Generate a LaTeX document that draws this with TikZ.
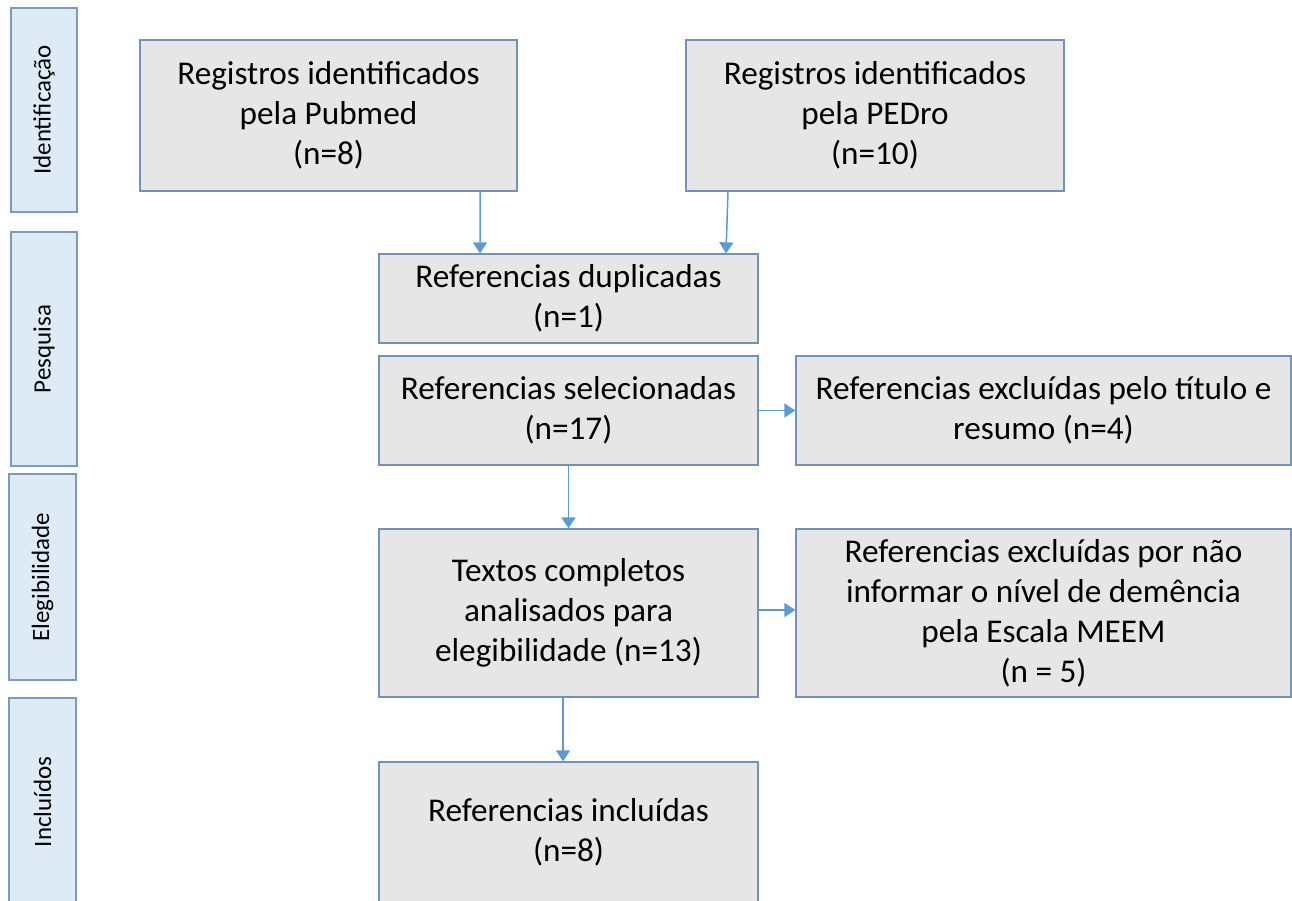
\documentclass[tikz,border=0pt]{standalone}
\usepackage{fontspec}
\setmainfont{Carlito}
\usepackage{tikz}
\usetikzlibrary{arrows.meta,calc}

\definecolor{boxgray}{HTML}{E6E6E6}
\definecolor{boxline}{HTML}{7193BB}
\definecolor{barfill}{HTML}{DEEAF6}
\definecolor{barline}{HTML}{7A9BC2}
\definecolor{flowblue}{HTML}{5B9BD5}

\tikzset{
	size/.style 2 args={minimum width=#1*0.02cm, minimum height=#2*0.02cm},
	stagebox/.style={draw=boxline, fill=boxgray, line width=0.75pt, align=center,
		inner sep=0pt, font=\fontsize{18.9}{22.8}\selectfont},
	phasebar/.style={draw=barline, fill=barfill, line width=0.9pt, inner sep=0pt},
	phaselabel/.style={rotate=90, font=\fontsize{14.2}{17}\selectfont},
	flow/.style={draw=flowblue, line width=0.85pt, -{Triangle[width=2.8mm,length=2.2mm]}}
}

\begin{document}
\begin{tikzpicture}[x=0.02cm,y=-0.02cm]
		\useasboundingbox (0,0) rectangle (1292,901);
%
		\node[phasebar, size={66}{204}] (ident) at (44,110) {};
		\node[phaselabel] at (ident.center) {Identificação};
		\node[phasebar, size={66}{234}] (pesq) at (44,349) {};
		\node[phaselabel] at (pesq.center) {Pesquisa};
		\node[phasebar, size={67}{206}] (eleg) at (42.5,577) {};
		\node[phaselabel] at (eleg.center) {Elegibilidade};
		\node[phasebar, size={67}{208}] (incl) at (42.5,802) {};
		\node[phaselabel] at (incl.center) {Incluídos};
%
		\node[stagebox, size={377}{151}] (pubmed) at (328.5,115.5)
			{Registros identificados\\pela Pubmed\\(n=8)};
		\node[stagebox, size={378}{151}] (pedro) at (875,115.5)
			{Registros identificados\\pela PEDro\\(n=10)};
		\node[stagebox, size={379}{89}] (dup) at (568.5,298.5)
			{Referencias duplicadas\\(n=1)};
		\node[stagebox, size={379}{109}] (sel) at (568.5,410.5)
			{Referencias selecionadas\\(n=17)};
		\node[stagebox, size={495}{109}] (exctit) at (1043.5,410.5)
			{Referencias excluídas pelo título e\\resumo (n=4)};
		\node[stagebox, size={379}{168}] (textos) at (568.5,613)
			{Textos completos\\analisados para\\elegibilidade (n=13)};
		\node[stagebox, size={495}{168}] (excmeem) at (1043.5,613)
			{Referencias excluídas por não\\informar o nível de demência\\pela Escala MEEM\\(n = 5)};
		\node[stagebox, size={379}{140}] (final) at (568.5,832)
			{Referencias incluídas\\(n=8)};
%
		\draw[flow] ($(pubmed.south) + (151.5,0)$) -- ($(dup.north) + (-88.5,0)$);
		\draw[flow] ($(pedro.south) + (-147,0)$) -- ($(dup.north) + (157.5,0)$);
		\draw[flow] (sel.east) -- (exctit.west);
		\draw[flow] (sel.south) -- (textos.north);
		\draw[flow] ($(textos.east) + (0,-3)$) -- ($(excmeem.west) + (0,-3)$);
		\draw[flow] ($(textos.south) + (-5.5,0)$) -- ($(final.north) + (-5.5,0)$);
	\end{tikzpicture}
\end{document}
